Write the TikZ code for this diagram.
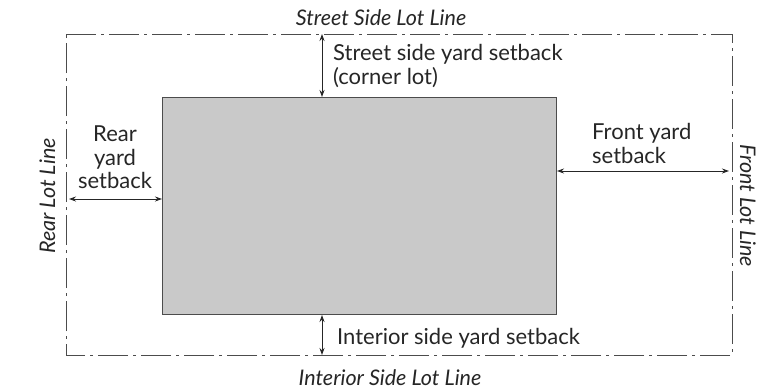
\documentclass[tikz,border=0pt]{standalone}
\usepackage{fontspec}
\setmainfont{Lato}
\usetikzlibrary{arrows.meta}
\begin{document}
\begin{tikzpicture}[x=1pt,y=-1pt,
  lotline/.style={draw=black!70,line width=0.9pt,dash pattern=on 30pt off 5pt on 3pt off 5pt},
  house/.style={draw=black!70,line width=1pt,fill=black!21},
  dim/.style={draw=black!85,line width=0.9pt,{Stealth[length=7pt,width=5pt]}-{Stealth[length=7pt,width=5pt]}},
  lbl/.style={font=\fontsize{22}{24}\selectfont,text=black!85,inner sep=0pt},
  ital/.style={font=\fontsize{21.5}{24}\selectfont\itshape,text=black!85,inner sep=0pt}]
\useasboundingbox (0,0) rectangle (762,391);
\fill[white] (0,0) rectangle (762,391);
% lot outline
\draw[lotline] (66,34) -- (732,34) -- (732,355) -- (66,355) -- cycle;
% house
\node[house,minimum width=394pt,minimum height=217pt,anchor=north west,inner sep=0pt] (h) at (162,97) {};
% connector endpoints
\coordinate (st) at (322,34);
\coordinate (sb) at (322,355);
\coordinate (rl) at (69,199);
\coordinate (fr) at (729,171);
\draw[dim] (st) -- (h.north west -| st);
\draw[dim] (h.south west -| sb) -- (sb);
\draw[dim] (rl) -- (rl -| h.west);
\draw[dim] (h.east |- fr) -- (fr);
% labels
\node[ital,anchor=base] (stl) at (381,25) {Street Side Lot Line};
\node[ital,anchor=base] (isl) at (390,385) {Interior Side Lot Line};
\node[ital,rotate=90,anchor=base] (rll) at (55,196) {Rear Lot Line};
\node[ital,rotate=-90,anchor=base] (fll) at (740,206) {Front Lot Line};
\node[lbl,anchor=base west] (ss1) at (333,60) {Street side yard setback};
\node[lbl,anchor=base west] (ss2) at (333,84) {(corner lot)};
\node[lbl,anchor=base] (rs1) at (115,141) {Rear};
\node[lbl,anchor=base] (rs2) at (115,165) {yard};
\node[lbl,anchor=base] (rs3) at (115,188) {setback};
\node[lbl,anchor=base west] (fs1) at (592,139) {Front yard};
\node[lbl,anchor=base west] (fs2) at (592,163) {setback};
\node[lbl,anchor=base west] (is) at (337,344) {Interior side yard setback};
\end{tikzpicture}
\end{document}
